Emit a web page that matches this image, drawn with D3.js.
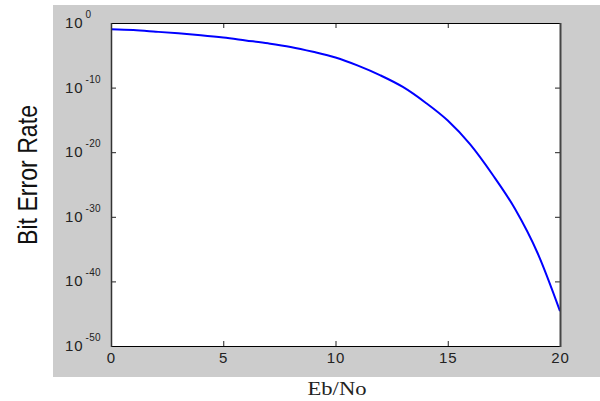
<!DOCTYPE html>
<html>
<head>
<meta charset="utf-8">
<script src="https://cdn.jsdelivr.net/npm/d3@7"></script>
<style>
  body { margin: 0; background: #fff; }
  svg { display: block; }
</style>
</head>
<body>
<svg id="canvas" width="600" height="401"></svg>
<script>
// Eb/No in dB and the bit error rate
const ebno = [0, 1, 2, 3, 4, 5, 6, 7, 8, 9, 10, 11, 12, 13, 14, 15, 16, 17, 18, 19, 20]
const ber = [1.05e-1, 7.9e-2, 4.5e-2, 2.5e-2, 1.26e-2, 5.6e-3, 2.0e-3, 7.1e-4, 2.0e-4, 3.5e-5,
             4.5e-6, 2.5e-7, 7.9e-9, 1.26e-10, 5.0e-13, 7.9e-16, 1.6e-19, 3.2e-24, 1.6e-29, 2.5e-36, 2.5e-45]

const xTicks = [0, 5, 10, 15, 20]
const yTicks = [1, 1e-10, 1e-20, 1e-30, 1e-40, 1e-50]
const yTickExp = ["0", "-10", "-20", "-30", "-40", "-50"]

let canvas = d3.select("#canvas")

// gray figure background
canvas.append("rect")
      .attr("x", 53).attr("y", 5)
      .attr("width", 547).attr("height", 372)
      .attr("fill", "#cccccc")

const plotLeft = 111, plotRight = 560, plotTop = 23, plotBottom = 346

let x = d3.scaleLinear().domain([0, 20]).range([plotLeft, plotRight])
let y = d3.scaleLog().domain([1e-50, 1]).range([plotBottom, plotTop])

canvas.append("rect")
      .attr("x", plotLeft).attr("y", plotTop)
      .attr("width", plotRight - plotLeft).attr("height", plotBottom - plotTop)
      .attr("fill", "white")

// ticks on all four sides, pointing inward
canvas.append("g")
      .attr("transform", `translate(0,${plotBottom})`)
      .call(d3.axisBottom(x).tickValues(xTicks).tickSizeInner(-5).tickSizeOuter(0).tickFormat(""))
canvas.append("g")
      .attr("transform", `translate(0,${plotTop})`)
      .call(d3.axisTop(x).tickValues(xTicks).tickSizeInner(-5).tickSizeOuter(0).tickFormat(""))
canvas.append("g")
      .attr("transform", `translate(${plotLeft},0)`)
      .call(d3.axisLeft(y).tickValues(yTicks).tickSizeInner(-5).tickSizeOuter(0).tickFormat(""))
canvas.append("g")
      .attr("transform", `translate(${plotRight},0)`)
      .call(d3.axisRight(y).tickValues(yTicks).tickSizeInner(-5).tickSizeOuter(0).tickFormat(""))

canvas.selectAll(".domain").remove()
canvas.selectAll(".tick line").attr("stroke", "#222")

// curve
let line = d3.line()
             .x((d, i) => x(ebno[i]))
             .y((d) => y(d))
             .curve(d3.curveMonotoneX)

canvas.append("path")
      .datum(ber)
      .attr("d", line)
      .attr("fill", "none")
      .attr("stroke", "#0000ff")
      .attr("stroke-width", 2)
      .attr("stroke-linejoin", "round")

// frame
canvas.append("line").attr("x1", plotLeft).attr("x2", plotRight).attr("y1", plotTop + 0.5).attr("y2", plotTop + 0.5)
      .attr("stroke", "#000").attr("stroke-width", 1)
canvas.append("line").attr("x1", plotLeft).attr("x2", plotRight).attr("y1", plotBottom + 0.5).attr("y2", plotBottom + 0.5)
      .attr("stroke", "#000").attr("stroke-width", 1)
canvas.append("line").attr("x1", plotLeft + 0.5).attr("x2", plotLeft + 0.5).attr("y1", plotTop).attr("y2", plotBottom + 1)
      .attr("stroke", "#333").attr("stroke-width", 1.5)
canvas.append("line").attr("x1", plotRight + 0.5).attr("x2", plotRight + 0.5).attr("y1", plotTop).attr("y2", plotBottom + 1)
      .attr("stroke", "#444").attr("stroke-width", 2)

// x tick labels
canvas.selectAll(".xlab")
      .data(xTicks)
      .enter()
      .append("text")
      .attr("class", "xlab")
      .attr("x", (d) => x(d) + 0.5)
      .attr("y", 363)
      .attr("text-anchor", "middle")
      .attr("font-family", "Liberation Sans, Arial, sans-serif")
      .attr("font-size", 15)
      .attr("letter-spacing", 1)
      .attr("fill", "#222")
      .text((d) => d)

// y tick labels: 10 with a superscript exponent
let ylab = canvas.selectAll(".ylab")
                 .data(yTicks)
                 .enter()
                 .append("text")
                 .attr("class", "ylab")
                 .attr("font-family", "Liberation Sans, Arial, sans-serif")
                 .attr("fill", "#222")

ylab.append("tspan")
    .attr("x", 65)
    .attr("y", (d) => y(d) + 5)
    .attr("font-size", 15)
    .attr("letter-spacing", 1)
    .text("10")

ylab.append("tspan")
    .attr("x", 85.5)
    .attr("y", (d) => y(d) - 5)
    .attr("font-size", 10)
    .attr("letter-spacing", 0.3)
    .text((d, i) => yTickExp[i])

// axis titles
canvas.append("text")
      .attr("x", 337)
      .attr("y", 395)
      .attr("text-anchor", "middle")
      .attr("font-family", "Liberation Serif, Times New Roman, serif")
      .attr("font-size", 19)
      .attr("textLength", 59)
      .attr("lengthAdjust", "spacingAndGlyphs")
      .attr("fill", "#222")
      .text("Eb/No")

canvas.append("text")
      .attr("transform", "translate(37,175) rotate(-90)")
      .attr("text-anchor", "middle")
      .attr("font-family", "Liberation Sans Narrow, Arial Narrow, Liberation Sans, sans-serif")
      .attr("font-size", 28)
      .attr("textLength", 140)
      .attr("lengthAdjust", "spacingAndGlyphs")
      .attr("fill", "#111")
      .text("Bit Error  Rate")
</script>
</body>
</html>
